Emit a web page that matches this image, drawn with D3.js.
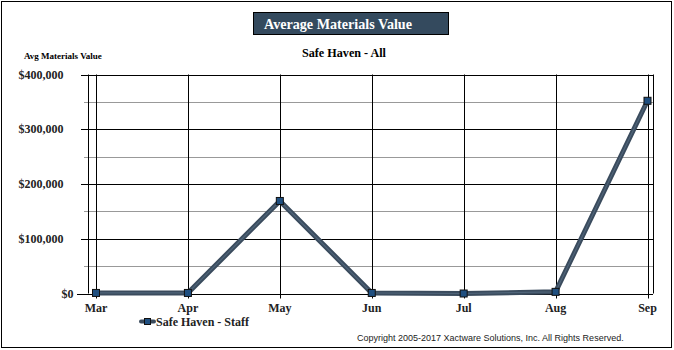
<!DOCTYPE html>
<html><head><meta charset="utf-8">
<script src="https://cdn.jsdelivr.net/npm/d3@7"></script>
<style>body{margin:0;background:#fff}svg{display:block}</style>
</head><body><div id="chart"></div>
<script>
const months = ["Mar","Apr","May","Jun","Jul","Aug","Sep"];
const values = [1000, 1000, 169000, 1000, 0, 3000, 352000];
const yTicks = [0, 100000, 200000, 300000, 400000];
const yMinorTicks = [50000, 150000, 250000, 350000];
const seriesName = "Safe Haven - Staff";
const title = "Average Materials Value";
const subtitle = "Safe Haven - All";
const yTitle = "Avg Materials Value";
const copyright = "Copyright 2005-2017 Xactware Solutions, Inc. All Rights Reserved.";

const W = 674, H = 350;
const svg = d3.select("#chart").append("svg").attr("width", W).attr("height", H);
const serif = "'Liberation Serif','Times New Roman',serif";

svg.append("rect").attr("x",1.5).attr("y",1.5).attr("width",670).attr("height",346)
  .attr("fill","#fff").attr("stroke","#000").attr("stroke-width",1);

// title
svg.append("rect").attr("x",253.5).attr("y",12.5).attr("width",195).attr("height",22)
  .attr("fill","#344a5e").attr("stroke","#000");
svg.append("text").attr("x",264).attr("y",28.5).attr("fill","#fff")
  .attr("font-family",serif).attr("font-weight","bold").attr("font-size",15.5)
  .attr("textLength",148).attr("lengthAdjust","spacingAndGlyphs").text(title);
svg.append("text").attr("x",344).attr("y",57).attr("text-anchor","middle")
  .attr("font-family",serif).attr("font-weight","bold").attr("font-size",12.5)
  .attr("textLength",84).attr("lengthAdjust","spacingAndGlyphs").text(subtitle);
svg.append("text").attr("x",24).attr("y",59).attr("font-family",serif)
  .attr("font-size",9).attr("font-weight","bold").text(yTitle);

const pLeft = 88, pRight = 653, pTop = 74.5, pBottom = 293.5;
const x = d3.scalePoint().domain(months).range([96, 647.5]);
const y = d3.scaleLinear().domain([0, 400000]).range([pBottom, pTop]);

// minor gridlines
svg.append("g").selectAll("line").data(yMinorTicks).join("line")
  .attr("x1",84).attr("x2",pRight).attr("y1",d=>Math.round(y(d))+0.5).attr("y2",d=>Math.round(y(d))+0.5)
  .attr("stroke","#999").attr("stroke-width",1);
// major gridlines
svg.append("g").selectAll("line").data(yTicks).join("line")
  .attr("x1",d=>d===0?77:81).attr("x2",pRight).attr("y1",d=>Math.round(y(d))+0.5).attr("y2",d=>Math.round(y(d))+0.5)
  .attr("stroke","#000").attr("stroke-width",1);
// vertical gridlines (with ticks below axis)
svg.append("g").selectAll("line").data(months).join("line")
  .attr("x1",d=>Math.round(x(d))+0.5).attr("x2",d=>Math.round(x(d))+0.5)
  .attr("y1",pTop).attr("y2",pBottom+5)
  .attr("stroke","#000").attr("stroke-width",1);
// plot frame
svg.append("line").attr("x1",pLeft+0.5).attr("x2",pLeft+0.5).attr("y1",pTop).attr("y2",pBottom).attr("stroke","#000");
svg.append("line").attr("x1",pRight+0.5).attr("x2",pRight+0.5).attr("y1",pTop).attr("y2",pBottom).attr("stroke","#000");

// y labels
const fmt = d3.format("$,.0f");
svg.append("g").selectAll("text").data(yTicks).join("text")
  .attr("x",d=>d===0?73.5:63.5).attr("y",d=>y(d)+4).attr("text-anchor","end")
  .attr("font-family",serif).attr("font-weight","bold").attr("font-size",12)
  .attr("fill","#222").text(d=>fmt(d));
// x labels
svg.append("g").selectAll("text").data(months).join("text")
  .attr("x",d=>x(d)).attr("y",312).attr("text-anchor","middle")
  .attr("font-family",serif).attr("font-weight","bold").attr("font-size",12)
  .attr("fill","#222").text(d=>d);

// line
const data = months.map((m,i)=>({m, v: values[i]}));
const line = d3.line().x(d=>x(d.m)).y(d=>y(d.v));
svg.append("path").datum(data).attr("d",line).attr("fill","none")
  .attr("stroke","#3a4b5d").attr("stroke-width",5).attr("stroke-linejoin","miter");
svg.append("path").datum(data).attr("d",line).attr("fill","none")
  .attr("stroke","#4f6479").attr("stroke-width",1.2);
svg.append("g").selectAll("rect").data(data).join("rect")
  .attr("x",d=>x(d.m)-3.5).attr("y",d=>y(d.v)-3.5).attr("width",7).attr("height",7)
  .attr("fill","#1f4f80").attr("stroke","#111").attr("stroke-width",1);

// legend
svg.append("line").attr("x1",141).attr("x2",154).attr("y1",321.5).attr("y2",321.5)
  .attr("stroke","#3a4b5d").attr("stroke-width",4).attr("stroke-linecap","round");
svg.append("rect").attr("x",144.5).attr("y",318.5).attr("width",6).attr("height",6)
  .attr("fill","#1f4f80").attr("stroke","#111");
svg.append("text").attr("x",156).attr("y",326).attr("font-family",serif)
  .attr("font-weight","bold").attr("font-size",12).attr("fill","#222").text(seriesName);

svg.append("text").attr("x",357).attr("y",341).attr("font-family","'Liberation Sans',Arial,sans-serif")
  .attr("font-size",9).attr("fill","#222").text(copyright);
</script></body></html>
